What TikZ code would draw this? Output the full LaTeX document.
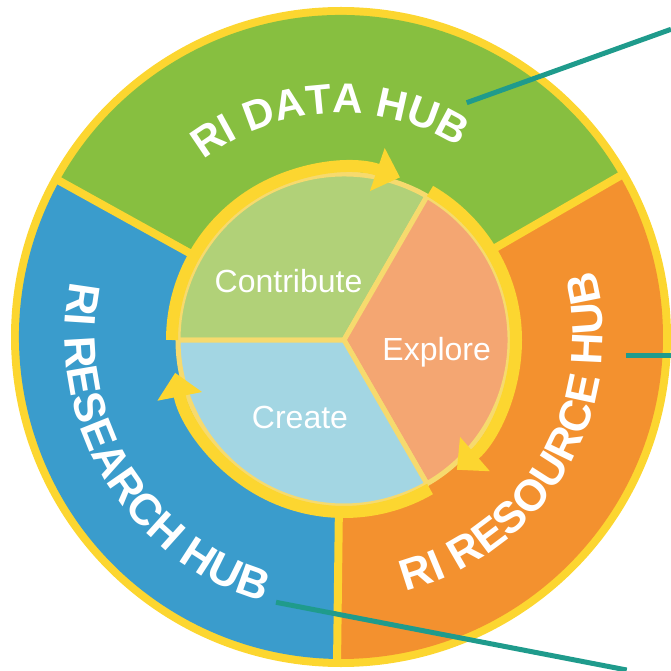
\documentclass[tikz,border=0pt]{standalone}
\usepackage{fontspec}
\setmainfont{Liberation Sans}
\usetikzlibrary{arrows.meta,decorations.text}
\definecolor{hubyellow}{RGB}{252,214,48}
\definecolor{hubgreen}{RGB}{135,191,64}
\definecolor{hubblue}{RGB}{58,156,204}
\definecolor{huborange}{RGB}{243,145,47}
\definecolor{contribgreen}{RGB}{177,209,120}
\definecolor{exploresalmon}{RGB}{244,166,114}
\definecolor{createblue}{RGB}{163,214,227}
\definecolor{paleyellow}{RGB}{246,218,110}
\definecolor{tealline}{RGB}{31,155,140}
\newcommand\hubfont{\bfseries\fontsize{44}{52}\selectfont}
\newcommand\hubfontsmall{\bfseries\fontsize{42}{50}\selectfont}
\begin{document}
\begin{tikzpicture}[x=1pt,y=1pt,
  ring/.style={line width=12pt, draw=hubyellow, line cap=butt, -{Triangle[width=44pt,length=24pt]}},
  slice/.style={draw=paleyellow, line width=5pt, line join=round},
  sep/.style={draw=hubyellow, line width=8pt},
  leader/.style={draw=tealline, line width=5pt},
  cyclelabel/.style={text=white, font=\fontsize{32}{38}\selectfont, anchor=base, inner sep=0pt},
  hubtext/.style={decorate, decoration={text along path, text align=center, text color=white, text={|\hubfont|#1}}},
  hubtextsmall/.style={decorate, decoration={text along path, text align=center, text color=white, text={|\hubfontsmall|#1}}}
]
\useasboundingbox (0,0) rectangle (671,670);
\coordinate (O) at (341,333);
\coordinate (I) at (344,330);
% outer ring
\fill[hubyellow] (O) circle[radius=330];
\fill[hubgreen] (O) -- ++(30:322) arc[start angle=30,end angle=151,radius=322] -- cycle;
\fill[hubblue] (O) -- ++(151:322) arc[start angle=151,end angle=269.3,radius=322] -- cycle;
\fill[huborange] (O) -- ++(269.3:322) arc[start angle=269.3,end angle=390,radius=322] -- cycle;
\foreach \a in {30,151,269.3} \draw[sep] (O) -- ++(\a:326);
% inner pie
\filldraw[slice, fill=contribgreen] (I) -- ++(60:166) arc[start angle=60,end angle=180,radius=166] -- cycle;
\filldraw[slice, fill=exploresalmon] (I) -- ++(-60:166) arc[start angle=-60,end angle=60,radius=166] -- cycle;
\filldraw[slice, fill=createblue] (I) -- ++(180:166) arc[start angle=180,end angle=300,radius=166] -- cycle;
% cycle arrows
\draw[ring] (I) ++(180:172) arc[start angle=180,end angle=71,radius=172];
\draw[ring] (I) ++(60:172) arc[start angle=60,end angle=-49,radius=172];
\draw[ring] (I) ++(-60:172) arc[start angle=-60,end angle=-169,radius=172];
% cycle labels
\node[cyclelabel] (contribute) at (288.5,377.3) {Contribute};
\node[cyclelabel] (explore) at (436.7,309.3) {Explore};
\node[cyclelabel] (create) at (300,242) {Create};
% hub labels
\path[hubtextsmall={RI DATA HUB}] (O) ++(143:224) arc[start angle=143,end angle=43,radius=224];
\path[hubtext={RI RESOURCE HUB}] (O) ++(-86:262) arc[start angle=-86,end angle=25,radius=262];
\path[hubtext={RI RESEARCH HUB}] (O) ++(155:276) arc[start angle=155,end angle=267,radius=276];
% leader lines
\coordinate (d1) at (466.7,567.3); \coordinate (d2) at (671,640.7);
\coordinate (r1) at (626,315); \coordinate (r2) at (671,315);
\coordinate (s1) at (276,67.7); \coordinate (s2) at (626.7,0);
\draw[leader] (d1) -- (d2);
\draw[leader] (r1) -- (r2);
\draw[leader] (s1) -- (s2);
\end{tikzpicture}
\end{document}
